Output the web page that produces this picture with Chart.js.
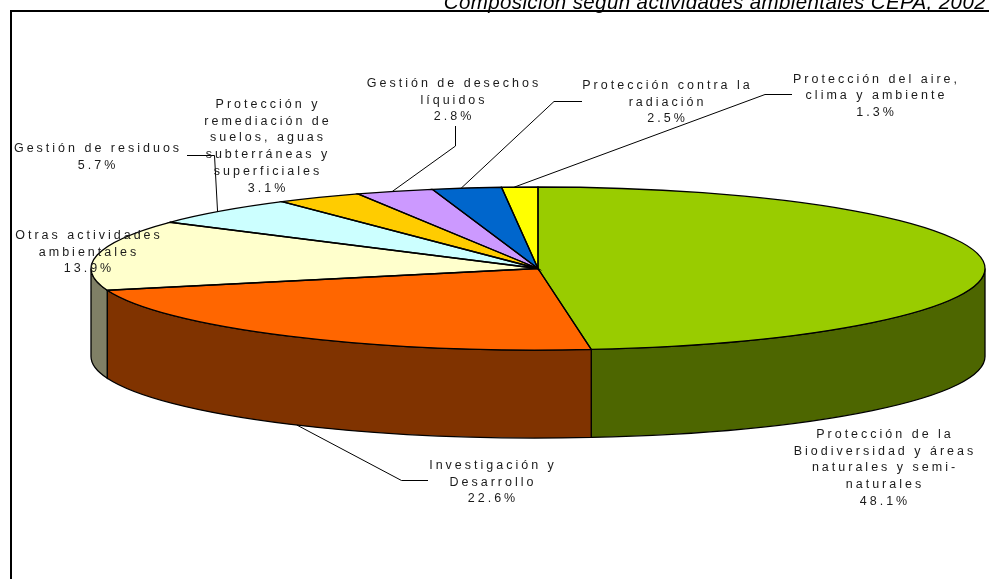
<!DOCTYPE html>
<html lang="es">
<head>
<meta charset="utf-8">
<style>
html,body{margin:0;padding:0;background:#fff;overflow:hidden}
canvas{display:block}
</style>
<script src="https://cdn.jsdelivr.net/npm/chart.js@4"></script>
</head>
<body>
<canvas id="c" width="989" height="579"></canvas>
<script>
const title = 'Composición según actividades ambientales CEPA, 2002';
const categories = [
  'Protección de la Biodiversidad y áreas naturales y semi-naturales',
  'Investigación y Desarrollo',
  'Otras actividades ambientales',
  'Gestión de residuos',
  'Protección y remediación de suelos, aguas subterráneas y superficiales',
  'Gestión de desechos líquidos',
  'Protección contra la radiación',
  'Protección del aire, clima y ambiente'
];
const values = [48.1, 22.6, 13.9, 5.7, 3.1, 2.8, 2.5, 1.3];
const topColors = ['#99CC00','#FF6600','#FFFFCC','#CCFFFF','#FFCC00','#CC99FF','#0066CC','#FFFF00'];
const sideColors = ['#4D6600','#803300','#808066','#668080','#806600','#664D80','#003366','#808000'];

// layout (not data)
const labelLines = [
  ['Protección de la','Biodiversidad y áreas','naturales y semi-','naturales'],
  ['Investigación y','Desarrollo'],
  ['Otras actividades','ambientales'],
  ['Gestión de residuos'],
  ['Protección y','remediación de','suelos, aguas','subterráneas y','superficiales'],
  ['Gestión de desechos','líquidos'],
  ['Protección contra la','radiación'],
  ['Protección del aire,','clima y ambiente']
];
const labelX = [885, 493, 89, 98, 268, 454, 667.5, 876.5];
const labelTop = [438, 469, 239, 152, 108, 87, 89, 82.5];
const leaders = [
  null,
  {t:0.485, bottom:true, pts:[[401.5,480.5],[428,480.5]]},
  null,
  {t:0.47, pts:[[214.5,155.5],[187,155.5]]},
  null,
  {t:0.47, pts:[[455.5,146],[455.5,126]]},
  {t:0.42, pts:[[554,101.5],[582,101.5]]},
  {t:0.35, pts:[[765,94.5],[792,94.5]]}
];
const CX = 538, CY = 268.5, RX = 447, RY = 81.5, DEPTH = 88;
const W = 989, H = 579;

function squash(ctx, arc){
  ctx.translate(arc.x, arc.y);
  ctx.scale(1, RY/RX);
  ctx.translate(-arc.x, -arc.y);
}

const pie3d = {
  id:'pie3d',
  beforeDatasetsDraw(chart){
    const ctx = chart.ctx;
    const arcs = chart.getDatasetMeta(0).data;
    ctx.save();
    ctx.lineWidth = 1.3;
    ctx.strokeStyle = '#000';
    arcs.forEach((arc,i)=>{
      const a1 = Math.max(arc.startAngle, 0), a2 = Math.min(arc.endAngle, Math.PI);
      if (a2 <= a1) return;
      ctx.beginPath();
      ctx.ellipse(arc.x, arc.y, arc.outerRadius, RY, 0, a1, a2);
      ctx.ellipse(arc.x, arc.y + DEPTH, arc.outerRadius, RY, 0, a2, a1, true);
      ctx.closePath();
      ctx.fillStyle = sideColors[i];
      ctx.fill();
      ctx.stroke();
    });
    ctx.restore();
    // squash the library's own arcs into the top face
    ctx.save();
    squash(ctx, arcs[0]);
  },
  afterDatasetsDraw(chart){
    const ctx = chart.ctx;
    ctx.restore();
    const arcs = chart.getDatasetMeta(0).data;
    ctx.save();
    ctx.lineWidth = 1.3;
    ctx.strokeStyle = '#000';
    arcs.forEach(arc=>{
      ctx.beginPath();
      ctx.moveTo(arc.x, arc.y);
      ctx.ellipse(arc.x, arc.y, arc.outerRadius, RY, 0, arc.startAngle, arc.endAngle);
      ctx.closePath();
      ctx.stroke();
    });
    // leader lines, anchored on each slice's rim
    ctx.lineWidth = 1;
    arcs.forEach((arc,i)=>{
      const l = leaders[i];
      if (!l) return;
      const a = arc.startAngle + (arc.endAngle-arc.startAngle)*l.t;
      const x = arc.x + arc.outerRadius*Math.cos(a);
      const y = arc.y + RY*Math.sin(a) + (l.bottom ? DEPTH : 0);
      ctx.beginPath();
      ctx.moveTo(x,y);
      l.pts.forEach(p=>ctx.lineTo(p[0],p[1]));
      ctx.stroke();
    });
    ctx.restore();
  },
  afterDraw(chart){
    const ctx = chart.ctx;
    ctx.save();
    // frame
    ctx.strokeStyle = '#000';
    ctx.lineWidth = 2;
    ctx.beginPath();
    ctx.moveTo(11, H);
    ctx.lineTo(11, 11);
    ctx.lineTo(W, 11);
    ctx.stroke();
    // labels
    ctx.fillStyle = '#1a1a1a';
    ctx.textAlign = 'center';
    ctx.textBaseline = 'alphabetic';
    ctx.font = '12.5px "Liberation Sans", Arial, sans-serif';
    ctx.letterSpacing = '3px';
    categories.forEach((c,i)=>{
      const lines = labelLines[i].concat(values[i].toFixed(1)+'%');
      lines.forEach((t,k)=>ctx.fillText(t, labelX[i], labelTop[i] + k*16.7));
    });
    // title
    ctx.letterSpacing = '0.4px';
    ctx.fillStyle = '#000';
    ctx.textAlign = 'right';
    ctx.font = 'italic 20.5px "Liberation Sans", Arial, sans-serif';
    ctx.fillText(title, 986, 8.5);
    ctx.restore();
  }
};

new Chart(document.getElementById('c'), {
  type:'pie',
  data:{labels:categories, datasets:[{data:values, backgroundColor:topColors, borderWidth:0, radius:RX, clip:false}]},
  options:{
    responsive:false,
    animation:false,
    events:[],
    layout:{padding:{left:2*CX-W, right:0, top:0, bottom:H-2*CY}},
    plugins:{legend:{display:false}, title:{display:false}, tooltip:{enabled:false}}
  },
  plugins:[pie3d]
});
</script>
</body>
</html>
